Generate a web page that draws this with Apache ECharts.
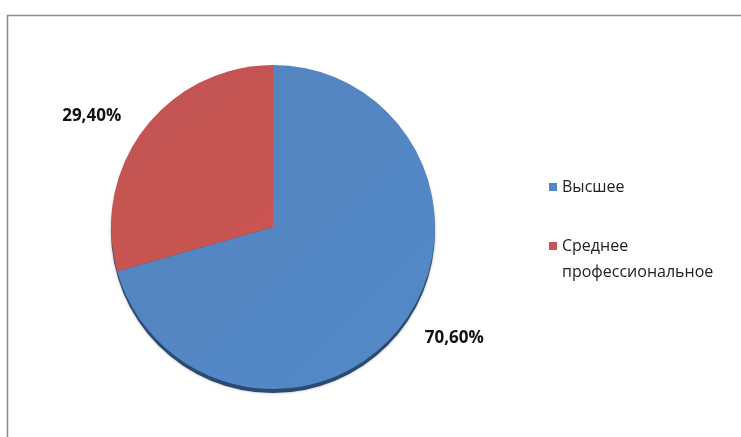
<!DOCTYPE html>
<html><head><meta charset="utf-8">
<script src="https://cdn.jsdelivr.net/npm/echarts@6/dist/echarts.min.js"></script>
<style>html,body{margin:0;padding:0;background:#fff}#c{width:741px;height:437px}</style>
</head><body><div id="c"></div>
<script>
const categories = ['Высшее', 'Среднее профессиональное'];
const values = [70.6, 29.4];
const valueLabels = ['70,60%', '29,40%'];
const legendLabels = ['Высшее', ' \nСреднее\nпрофессиональное'];
const colors = ['#4F81BD', '#C0504D'];

const chart = echarts.init(document.getElementById('c'));
chart.setOption({
  animation: false,
  graphic: [{
    type: 'rect', shape: {x: 7.5, y: 15.5, width: 800, height: 500},
    style: {fill: 'none', stroke: '#8c8c8c', lineWidth: 1.5}, silent: true
  }],
  legend: {
    orient: 'vertical', left: 549, top: 174, padding: 0,
    itemWidth: 8, itemHeight: 8, itemGap: 7, icon: 'rect',
    textStyle: {fontFamily: 'Open Sans', fontSize: 16, color: '#222', lineHeight: 26},
    formatter: name => legendLabels[categories.indexOf(name)],
    data: categories
  },
  series: [{
    type: 'pie', center: [273, 231], radius: 162, silent: true,
    data: [{name: 'shadow', value: 1, itemStyle: {color: '#2b4a73', shadowColor: 'rgba(0,0,0,0.3)', shadowBlur: 3}}],
    label: {show: false}, labelLine: {show: false}, z: 1,
    legendHoverLink: false
  }, {
    type: 'pie', center: [273, 227], radius: 162, startAngle: 90, clockwise: true, z: 2,
    data: categories.map((c, i) => ({
      name: c, value: values[i],
      itemStyle: {color: new echarts.graphic.LinearGradient(0, 0, 1, 1, [
        {offset: 0, color: echarts.color.lift(colors[i], 0.03)},
        {offset: 1, color: echarts.color.lift(colors[i], -0.06)}
      ])},
      label: {formatter: valueLabels[i]}
    })),
    label: {show: true, position: 'outside', fontFamily: 'Open Sans', fontWeight: 'bold', fontSize: 17, color: '#111'},
    labelLine: {show: false, length: 22, length2: 0},
    emphasis: {disabled: true}
  }]
});
</script></body></html>
